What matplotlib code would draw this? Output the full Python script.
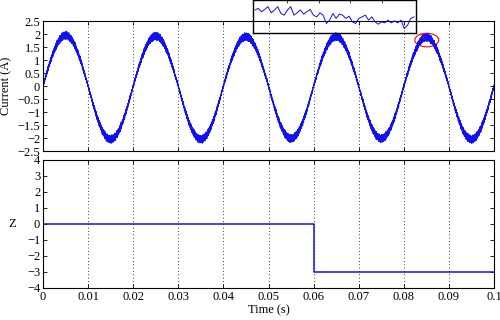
import numpy as np
import matplotlib
matplotlib.use('Agg')
import matplotlib.pyplot as plt
from matplotlib.patches import Ellipse

plt.rcParams['font.family'] = ['Liberation Serif', 'DejaVu Serif']
plt.rcParams['font.size'] = 9

########### data ######################################
# current: 50 Hz sine, peak values per half cycle, plus switching ripple
freq = 50.0
peaks = [1.95, -2.05, 1.92, -2.05, 1.9, -2.02, 1.9, -2.02, 1.88, -2.05]
ripple = [0.08, -0.05, 0.12, -0.1, 0.03, 0.15, -0.12, 0.06, -0.02, 0.1,
          -0.14, 0.05, 0.09, -0.07, 0.13, -0.04, -0.11, 0.07, 0.02, -0.09,
          0.14, -0.06, 0.04, 0.11, -0.13, 0.0, 0.08, -0.1, 0.12, -0.03,
          -0.08, 0.1, -0.12, 0.05, 0.13, -0.06, 0.01, -0.15, 0.06, 0.03,
          -0.04, 0.11, -0.09, 0.16, -0.02, -0.13, 0.07, 0.0, 0.12, -0.08,
          0.05, -0.11, 0.09, 0.02, -0.06, 0.14, -0.1, 0.04, -0.01, 0.1,
          -0.14, 0.08, 0.03, -0.07, 0.12, -0.12, 0.06, -0.03, 0.15, -0.05,
          -0.09, 0.1, 0.01, -0.13, 0.07, 0.11, -0.08, 0.04, -0.15, 0.09, 0.0]

# switching state Z
z_t = [0.0, 0.06, 0.06, 0.1]
z_val = [0, 0, -3, -3]

# zoomed inset (peak near t = 0.085 s)
inset_t0, inset_t1 = 0.0830, 0.0870
inset_val = [1.943, 1.961, 1.925, 1.950, 1.979, 1.914, 1.943, 1.979, 1.907, 1.889,
             1.943, 1.979, 1.889, 1.914, 1.943, 1.900, 1.925, 1.950, 1.889, 1.871,
             1.914, 1.889, 1.800, 1.836, 1.907, 1.854, 1.900, 1.889, 1.854, 1.879,
             1.818, 1.800, 1.854, 1.871, 1.889, 1.836, 1.871, 1.818, 1.793, 1.818,
             1.807, 1.836, 1.807, 1.829, 1.807, 1.836, 1.746, 1.782, 1.854, 1.871]

########### build the current trace #################
t = np.linspace(0, 0.1, 4001)
half = np.minimum((t * 2 * freq).astype(int), len(peaks) - 1)
amp = np.abs(np.array(peaks))[half]
rip = np.resize(np.array(ripple), t.size)
s = np.sin(2 * np.pi * freq * t)
current = amp * s + rip * (0.5 + 0.6 * np.abs(s))

blue = '#1010f0'

def style_axes(ax):
    ax.tick_params(direction='in', top=True, right=True, length=3, width=0.6, pad=2)
    ax.grid(axis='x', color='black', linestyle=(0, (1, 3)), linewidth=0.6)
    for sp in ax.spines.values():
        sp.set_linewidth(0.8)

fig = plt.figure(figsize=(5, 3.2), dpi=100)

ax1 = fig.add_axes([0.086, 0.528, 0.902, 0.406])
ax1.plot(t, current, color=blue, linewidth=0.5)
ax1.set_xlim(0, 0.1)
ax1.set_ylim(-2.5, 2.5)
ax1.set_xticks(np.arange(0, 0.1001, 0.01))
ax1.set_xticklabels([])
ax1.set_yticks(np.arange(-2.5, 2.51, 0.5))
ax1.set_yticklabels(['\u22122.5', '\u22122', '\u22121.5', '\u22121', '\u22120.5',
                     '0', '0.5', '1', '1.5', '2', '2.5'])
ax1.set_ylabel('Current (A)')
ax1.yaxis.set_label_coords(-0.069, 0.5)
style_axes(ax1)

ell = Ellipse((0.0851, 1.77), 0.0053, 0.52, fill=False, edgecolor='red', linewidth=0.8)
ax1.add_patch(ell)
ax1.annotate('', xy=(0.0829, 2.05), xytext=(0.0843, 1.95),
             arrowprops=dict(arrowstyle='->', color='red', linestyle='--', linewidth=0.6),
             annotation_clip=False)

ax2 = fig.add_axes([0.086, 0.1, 0.902, 0.4])
ax2.plot(z_t, z_val, color=blue, linewidth=1.1)
ax2.set_xlim(0, 0.1)
ax2.set_ylim(-4, 4)
ax2.set_xticks(np.arange(0, 0.1001, 0.01))
ax2.set_xticklabels(['0', '0.01', '0.02', '0.03', '0.04', '0.05',
                     '0.06', '0.07', '0.08', '0.09', '0.1'])
ax2.set_yticks(np.arange(-4, 5, 1))
ax2.set_yticklabels(['\u22124', '\u22123', '\u22122', '\u22121', '0', '1', '2', '3', '4'])
ax2.set_ylabel('Z', rotation=0, va='center')
ax2.yaxis.set_label_coords(-0.069, 0.5)
ax2.set_xlabel('Time (s)', labelpad=1)
style_axes(ax2)

ax3 = fig.add_axes([0.506, 0.897, 0.326, 0.103])
ax3.patch.set_alpha(0)
ax3.plot(np.linspace(inset_t0, inset_t1, len(inset_val)), inset_val, color=blue, linewidth=0.7)
ax3.set_xlim(inset_t0 - 0.00005, inset_t1 + 0.00005)
ax3.set_ylim(1.70, 2.05)
ax3.set_xticks(np.linspace(inset_t0, inset_t1, 6)[1:-1])
ax3.set_yticks([])
ax3.tick_params(direction='in', top=True, bottom=False, length=2, width=0.5,
                labelbottom=False)
for sp in ax3.spines.values():
    sp.set_linewidth(1.0)

fig.savefig('out.png', dpi=100)
